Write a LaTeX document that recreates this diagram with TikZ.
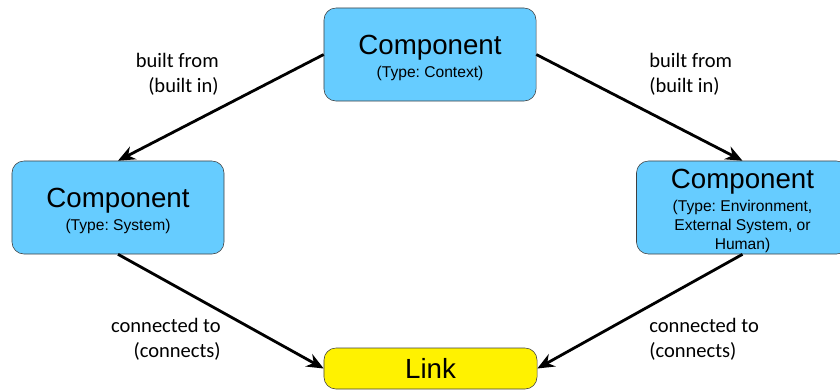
\documentclass[tikz,border=0pt]{standalone}
\usepackage{fontspec}
\setmainfont{Liberation Sans}
\newfontfamily\calibri{Carlito}
\usetikzlibrary{arrows.meta}
\definecolor{compblue}{RGB}{102,204,255}
\newcommand{\compname}[1]{{\fontsize{19.7}{23}\selectfont\rule{0pt}{18.6pt}#1}\\[2.5pt]}
\frenchspacing

\begin{document}
\begin{tikzpicture}[x=0.025cm,y=-0.025cm,
	comp/.style={draw=black!75,fill=compblue,rounded corners=0.3cm,minimum width=5.3cm,minimum height=2.325cm,inner sep=0pt,align=center,font=\fontsize{11.1}{13.5}\selectfont},
	rel/.style={-{Stealth[length=12pt,width=10pt]},line width=2pt},
	lbl/.style={inner sep=0pt,font=\calibri\fontsize{14.6}{17.8}\selectfont}]
	\useasboundingbox (0,0) rectangle (840,390);

	\node[comp] (ctx) at (430,54.5)   {\compname{Component}(Type: Context)};
	\node[comp] (sys) at (118,207.5)  {\compname{Component}(Type: System)};
	\node[comp] (env) at (742.5,207.5) {\compname{Component}(Type: Environment,\\External System, or\\Human)};
	\node[comp,fill=yellow,minimum height=1.025cm,minimum width=5.325cm,font=\fontsize{19.7}{23}\selectfont] (lnk) at (430.5,368.5) {Link};

	\draw[rel] (ctx.west) -- (sys.north);
	\draw[rel] (ctx.east) -- (env.north);
	\draw[rel] (sys.south) -- (lnk.west);
	\draw[rel] (env.south) -- (lnk.east);

	\node[lbl,align=right,anchor=north east] (l1) at (219,53)  {built from\\(built in)};
	\node[lbl,align=left,anchor=north west]  (l2) at (649,53)  {built from\\(built in)};
	\node[lbl,align=right,anchor=north east] (l3) at (221,318) {connected to\\(connects)};
	\node[lbl,align=left,anchor=north west]  (l4) at (649,318) {connected to\\(connects)};
\end{tikzpicture}
\end{document}
